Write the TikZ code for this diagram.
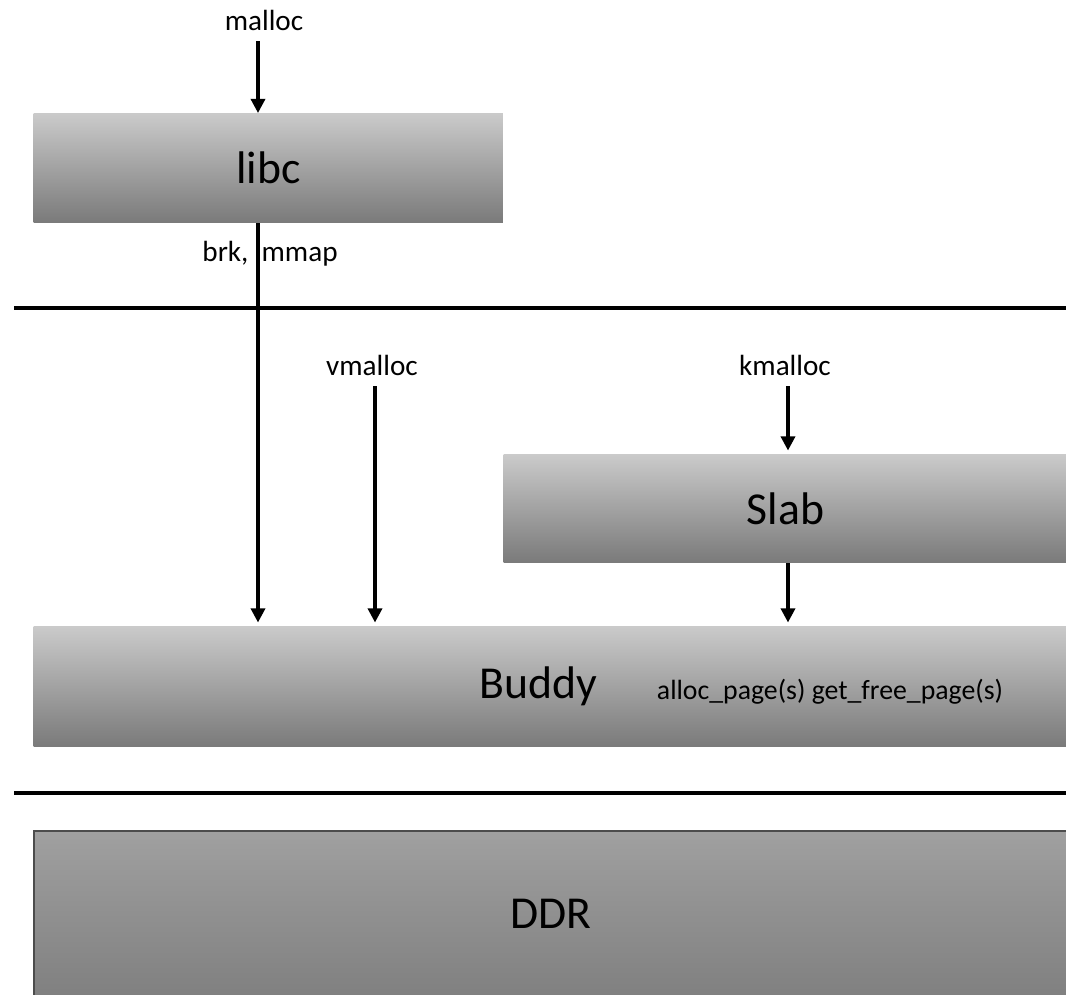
\documentclass[tikz,border=0pt]{standalone}
\usepackage{fontspec}
\setmainfont{Carlito}
\usetikzlibrary{arrows.meta}

\definecolor{boxtop}{RGB}{202,202,202}
\definecolor{boxmid}{RGB}{170,170,170}
\definecolor{boxbot}{RGB}{122,122,122}
\definecolor{ddrtop}{RGB}{160,160,160}
\definecolor{ddrbot}{RGB}{128,128,128}

\begin{document}
\begin{tikzpicture}[x=0.01cm,y=-0.01cm]
\useasboundingbox (0,0) rectangle (1066,995);

% layer boundaries
\draw[line width=1pt] (14,308) -- (1066,308);
\draw[line width=1pt] (14,793) -- (1066,793);

\begin{scope}[every node/.style={rectangle,inner sep=0pt,anchor=north west,
              top color=boxtop,middle color=boxmid,bottom color=boxbot,
              font=\fontsize{13}{15}\selectfont}]
    \node[minimum width=4.69cm,minimum height=1.09cm] (libc) at (33,113) {libc};
    \node[minimum width=5.63cm,minimum height=1.08cm] (slab) at (503,454) {Slab};
    \node[minimum width=10.33cm,minimum height=1.20cm] (buddy) at (33,626) {\hspace*{-0.25cm}Buddy};
    \node[minimum width=10.33cm,minimum height=1.65cm,top color=ddrtop,bottom color=ddrbot,
          draw=black!70,line width=0.5pt] (ddr) at (33,830) {DDR};
\end{scope}

\begin{scope}[every node/.style={inner sep=3pt,font=\fontsize{8.3}{10}\selectfont}]
    \node (malloc) at (264,20) {malloc};
    \node (brk) at (270,254) {brk,\hspace{0.45em}mmap};
    \node (vmalloc) at (372,365) {vmalloc};
    \node (kmalloc) at (785,365) {kmalloc};
    \node[font=\fontsize{7.9}{9}\selectfont] (pages) at (830,692) {alloc\_page(s) get\_free\_page(s)};
\end{scope}

\begin{scope}[>={Triangle[length=4pt,width=4pt]},
              every edge/.style={draw=black,line width=0.9pt}]
    \path [->] (malloc.south -| 258,0) edge (libc.north -| 258,0);
    \path [->] (libc.south -| 258,0) edge ([yshift=1pt]buddy.north -| 258,0);
    \path [->] (vmalloc.south -| 375,0) edge ([yshift=1pt]buddy.north -| 375,0);
    \path [->] (kmalloc.south -| 788,0) edge ([yshift=1pt]slab.north -| 788,0);
    \path [->] (slab.south -| 788,0) edge ([yshift=1pt]buddy.north -| 788,0);
\end{scope}
\end{tikzpicture}
\end{document}
